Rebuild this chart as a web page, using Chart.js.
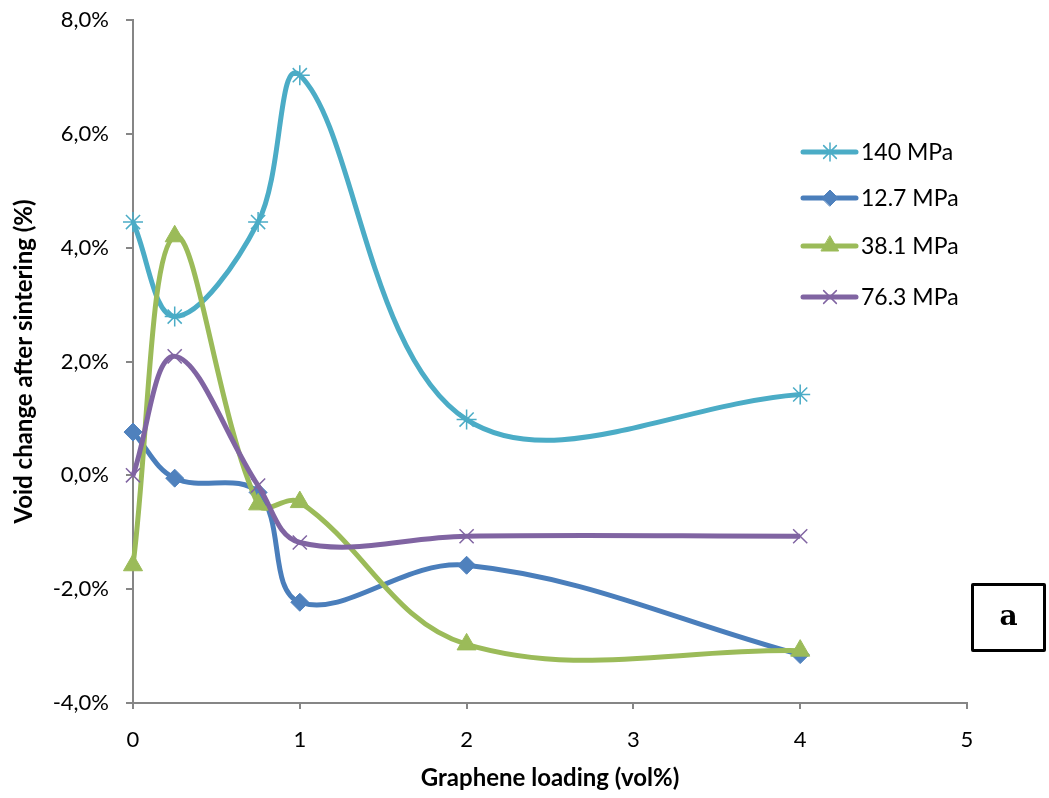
<!DOCTYPE html>
<html>
<head>
<meta charset="utf-8">
<script src="https://cdn.jsdelivr.net/npm/chart.js@4/dist/chart.umd.min.js"></script>
<style>
html,body{margin:0;padding:0;background:#fff;}
#wrap{position:relative;width:1049px;height:798px;}
#box{position:absolute;left:971px;top:583px;width:69px;height:63px;border:3px solid #000;border-radius:2px;
 font-family:"DejaVu Serif","Liberation Serif",serif;font-weight:bold;font-size:28px;line-height:60px;text-align:center;}
</style>
</head>
<body>
<div id="wrap">
<canvas id="c" width="1049" height="798"></canvas>
<div id="box">a</div>
</div>
<script>
const xLoading = [0, 0.25, 0.75, 1, 2, 4];
const seriesNames = ['140 MPa', '12.7 MPa', '38.1 MPa', '76.3 MPa'];
const s140 = [4.45, 2.79, 4.45, 7.03, 0.98, 1.42];
const s127 = [0.76, -0.05, -0.30, -2.23, -1.58, -3.15];
const s381 = [-1.58, 4.20, -0.51, -0.47, -2.97, -3.08];
const s763 = [0.00, 2.09, -0.18, -1.18, -1.07, -1.07];
const yTicks = [-4, -2, 0, 2, 4, 6, 8];
const xTicks = [0, 1, 2, 3, 4, 5];

const FONT = 'Lato, "Open Sans", sans-serif';

function pts(arr){ return arr.map((v,i)=>({x:xLoading[i], y:v})); }

const styles = [
  {line:'#4BACC6', pt:'#4BACC6', style:'star', r:10, order:4},
  {line:'#4A7EBB', pt:'#4F81BD', style:'rectRot', r:9, order:3},
  {line:'#9BBB59', pt:'#9BBB59', style:'triangle', r:11, order:2},
  {line:'#8064A2', pt:'#8064A2', style:'crossRot', r:10, order:1}
];
const allData = [s140, s127, s381, s763];

const datasets = allData.map((d,i)=>({
  label: seriesNames[i],
  data: pts(d),
  borderColor: styles[i].line,
  backgroundColor: styles[i].pt,
  pointBorderColor: styles[i].pt,
  pointBackgroundColor: styles[i].pt,
  pointStyle: styles[i].style,
  pointRadius: styles[i].r,
  pointBorderWidth: (styles[i].style==='star'||styles[i].style==='crossRot')?1.5:1,
  borderWidth: 5,
  tension: 0.37,
  order: styles[i].order,
  clip: false,
  fill:false
}));

const legendPlugin = {
  id:'customLegend',
  afterDraw(chart){
    const ctx = chart.ctx;
    const ys = [152, 198, 246, 297];
    chart.data.datasets.forEach((ds,i)=>{
      const y = ys[i];
      ctx.save();
      ctx.strokeStyle = ds.borderColor;
      ctx.lineWidth = 5;
      ctx.lineCap = 'round';
      ctx.beginPath(); ctx.moveTo(803,y); ctx.lineTo(856,y); ctx.stroke();
      ctx.fillStyle = ds.pointBackgroundColor;
      ctx.strokeStyle = ds.pointBorderColor;
      ctx.lineWidth = ds.pointBorderWidth;
      Chart.helpers.drawPoint(ctx, {pointStyle: ds.pointStyle, radius: ds.pointRadius - 1, borderWidth: ds.pointBorderWidth}, 830, y);
      ctx.restore();
      ctx.save();
      ctx.fillStyle = '#000';
      ctx.font = '23px ' + FONT;
      ctx.textBaseline = 'middle';
      ctx.fillText(ds.label, 861, y+1);
      ctx.restore();
    });
  }
};

new Chart(document.getElementById('c'), {
  type:'line',
  data:{datasets},
  plugins:[legendPlugin],
  options:{
    responsive:false,
    animation:false,
    layout:{autoPadding:false, padding:{top:20,right:82,bottom:0,left:0}},
    plugins:{legend:{display:false}, tooltip:{enabled:false}},
    scales:{
      x:{
        type:'linear', min:0, max:5,
        afterBuildTicks(s){ s.ticks = xTicks.map(v=>({value:v})); },
        afterFit(s){ s.height = 95; s.paddingLeft = 0; s.paddingRight = 0; },
        border:{color:'#868686', width:2},
        grid:{display:true, drawOnChartArea:false, color:'#868686', lineWidth:2, tickLength:6},
        ticks:{font:{family:FONT,size:22}, color:'#000', padding:18, callback:v=>String(v)},
        title:{display:true, text:'Graphene loading (vol%)', font:{family:FONT,size:24,weight:'bold'}, color:'#000', padding:{top:5,bottom:5}}
      },
      y:{
        min:-4, max:8,
        afterBuildTicks(s){ s.ticks = yTicks.map(v=>({value:v})); },
        afterFit(s){ s.width = 133; s.paddingTop = 0; s.paddingBottom = 0; },
        border:{color:'#868686', width:2},
        grid:{display:true, drawOnChartArea:false, color:'#868686', lineWidth:2, tickLength:7},
        ticks:{font:{family:FONT,size:22}, color:'#000', padding:17, callback:v=>v.toFixed(1).replace('.',',')+'%'},
        title:{display:true, text:'Void change after sintering (%)', font:{family:FONT,size:24,weight:'bold'}, color:'#000', padding:{top:10,bottom:10}}
      }
    }
  }
});
</script>
</body>
</html>
